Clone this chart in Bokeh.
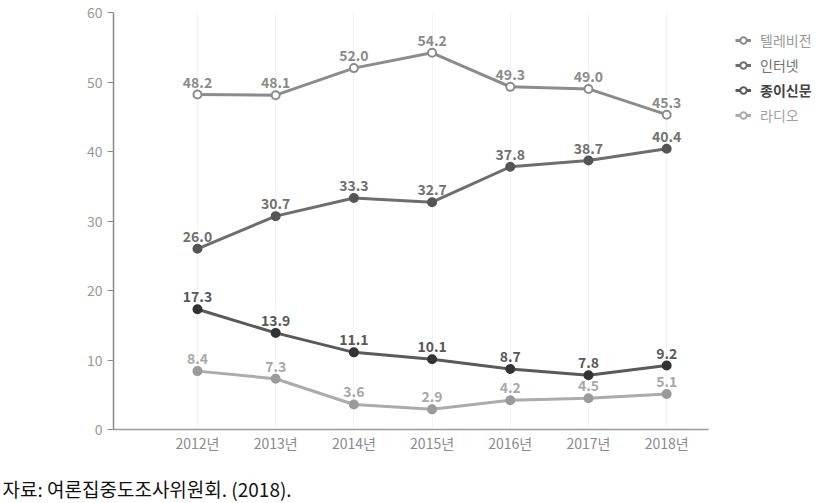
from bokeh.plotting import figure
from bokeh.models import Range1d, FixedTicker, Legend, LegendItem, Label, ColumnDataSource
from bokeh.layouts import row, column
from bokeh.embed import file_html
from bokeh.resources import INLINE
from bokeh.core.properties import value

years = ["2012년", "2013년", "2014년", "2015년", "2016년", "2017년", "2018년"]
tv = [48.2, 48.1, 52.0, 54.2, 49.3, 49.0, 45.3]
internet = [26.0, 30.7, 33.3, 32.7, 37.8, 38.7, 40.4]
paper = [17.3, 13.9, 11.1, 10.1, 8.7, 7.8, 9.2]
radio = [8.4, 7.3, 3.6, 2.9, 4.2, 4.5, 5.1]
series_names = ["텔레비전", "인터넷", "종이신문", "라디오"]
y_ticks = [0, 10, 20, 30, 40, 50, 60]
caption = "자료: 여론집중도조사위원회. (2018)."

FONT = "Noto Sans CJK KR"
xs = list(range(len(years)))

TOP, BOTTOM = 12, 31

p = figure(width=720, height=460, output_backend="svg", toolbar_location=None,
           x_range=Range1d(-1.074, 6.535), y_range=Range1d(0, 60),
           min_border_left=113, min_border_right=12, min_border_top=TOP, min_border_bottom=BOTTOM)
p.outline_line_color = None
p.background_fill_color = "white"
p.border_fill_color = "white"

p.xaxis.ticker = FixedTicker(ticks=xs)
p.xaxis.major_label_overrides = {i: y for i, y in enumerate(years)}
p.xaxis.major_tick_line_color = None
p.xaxis.major_tick_out = 0
p.xaxis.major_tick_in = 0
p.xaxis.minor_tick_line_color = None
p.xaxis.axis_line_color = "#9a9a9a"
p.xaxis.axis_line_width = 1.5
p.xaxis.major_label_text_color = "#8a8a8a"
p.xaxis.major_label_text_font = FONT
p.xaxis.major_label_text_font_size = "14px"
p.xaxis.major_label_standoff = 3

p.yaxis.ticker = FixedTicker(ticks=y_ticks)
p.yaxis.minor_tick_line_color = None
p.yaxis.major_tick_out = 6
p.yaxis.major_tick_in = 0
p.yaxis.major_tick_line_color = "#8a8a8a"
p.yaxis.axis_line_color = "#8a8a8a"
p.yaxis.axis_line_width = 1.5
p.yaxis.major_label_text_color = "#999999"
p.yaxis.major_label_text_font = FONT
p.yaxis.major_label_text_font_size = "14px"
p.yaxis.major_label_standoff = 5

p.ygrid.grid_line_color = None
p.xgrid.grid_line_color = "#f3f3f3"

series = [tv, internet, paper, radio]
line_colors = ["#8c8c8c", "#6e6e6e", "#5a5a5a", "#ababab"]
marker_fill = ["white", "#555555", "#333333", "#9a9a9a"]
marker_line = ["#8c8c8c", "#555555", "#333333", "#9a9a9a"]
label_colors = ["#8a8a8a", "#707070", "#585858", "#a8a8a8"]
legend_text_colors = ["#9a9a9a", "#707070", "#444444", "#a0a0a0"]

for vals, lc, fc, mc, tc in zip(series, line_colors, marker_fill, marker_line, label_colors):
    src = ColumnDataSource(dict(x=xs, y=vals, t=[f"{v:.1f}" for v in vals]))
    p.line("x", "y", source=src, line_color=lc, line_width=3)
    p.scatter("x", "y", source=src, size=8, fill_color=fc, line_color=mc, line_width=2)
    p.text("x", "y", text="t", source=src, text_color=tc, text_font=value(FONT),
           text_font_size="14px", text_font_style="bold", text_align="center",
           text_baseline="bottom", y_offset=-7)

# legend panel (series drawn outside its visible range; only the legend shows)
lf = figure(width=107, height=460, output_backend="svg", toolbar_location=None,
            x_range=Range1d(100, 101), y_range=Range1d(100, 101),
            min_border_left=0, min_border_right=0, min_border_top=TOP, min_border_bottom=BOTTOM)
lf.axis.visible = False
lf.grid.visible = False
lf.outline_line_color = None
frame_h = 460 - TOP - BOTTOM
for i, (name, vals, lc, col) in enumerate(zip(series_names, series, line_colors, legend_text_colors)):
    lg_l = lf.line(xs, vals, line_color=lc, line_width=3)
    lg_s = lf.scatter(xs, vals, size=7, fill_color="white", line_color=lc, line_width=2)
    lg = Legend(items=[LegendItem(label=name, renderers=[lg_l, lg_s])],
                location=(15, frame_h - 38 - 25 * i), padding=0, margin=0,
                label_height=18, glyph_height=18, glyph_width=16, label_standoff=9,
                border_line_color=None, background_fill_alpha=0,
                label_text_font=FONT, label_text_font_size="14px",
                label_text_color=col,
                label_text_font_style="bold" if i == 2 else "normal")
    lf.add_layout(lg)

# caption panel
cf = figure(width=827, height=43, output_backend="svg", toolbar_location=None,
            x_range=Range1d(0, 1), y_range=Range1d(0, 1),
            min_border_left=0, min_border_right=0, min_border_top=0, min_border_bottom=0)
cf.axis.visible = False
cf.grid.visible = False
cf.outline_line_color = None
cf.add_layout(Label(x=2, y=15, x_units="screen", y_units="screen", text=caption,
                    text_font=FONT, text_font_size="19px", text_color="#111111",
                    text_baseline="middle"))

layout = column(row(p, lf), cf)
open("out.html", "w").write(file_html(layout, INLINE))
